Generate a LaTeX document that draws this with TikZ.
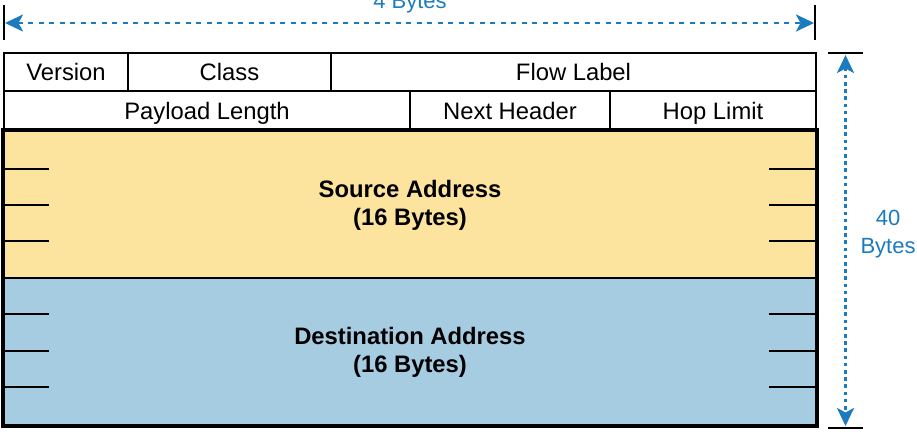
\documentclass[tikz,border=0pt]{standalone}
\usepackage{fontspec}
\setmainfont{Liberation Sans}
\usetikzlibrary{arrows.meta}
\definecolor{srcyellow}{HTML}{FDE49E}
\definecolor{dstblue}{HTML}{A6CCE2}
\definecolor{accent}{HTML}{1B7BBE}
\tikzset{
  cell/.style={draw=black, line width=2.9pt, fill=white, inner sep=0pt,
    font=\fontsize{23.8}{27}\selectfont, text height=17pt, text depth=0pt},
  bigcell/.style={draw=black, line width=2.9pt, inner sep=0pt, align=center,
    font=\fontsize{23.8}{27.5}\selectfont\bfseries},
  tickline/.style={draw=black, line width=2.7pt},
  dimarrow/.style={draw=accent, line width=2.8pt, {Stealth[length=18pt,width=17pt,inset=4.5pt]}-{Stealth[length=18pt,width=17pt,inset=4.5pt]}},
  dimlabel/.style={text=accent, inner sep=0pt, font=\fontsize{22}{28}\selectfont}
}
\begin{document}
\begin{tikzpicture}[x=1pt,y=-1pt]
\useasboundingbox (0,0) rectangle (917,431);
% header rows
\node[cell, minimum width=124pt, minimum height=38pt] (ver) at (66,72) {Version};
\node[cell, minimum width=203pt, minimum height=38pt] (cls) at (229.5,72) {Class};
\node[cell, minimum width=485pt, minimum height=38pt] (flow) at (573.5,72) {Flow Label};
\node[cell, minimum width=406pt, minimum height=40pt] (plen) at (207,111) {Payload Length};
\node[cell, minimum width=200pt, minimum height=40pt] (nh) at (510,111) {Next Header};
\node[cell, minimum width=206pt, minimum height=40pt] (hop) at (713,111) {Hop Limit};
% address blocks
\node[bigcell, fill=srcyellow, minimum width=812pt, minimum height=147pt] (src) at (410,204.5) {};
\node[bigcell, fill=dstblue, minimum width=812pt, minimum height=147pt] (dst) at (410,351.5) {};
\node[bigcell, draw=none, anchor=base] (srct) at (410,225) {Source Address\\(16 Bytes)};
\node[bigcell, draw=none, anchor=base] (dstt) at (410,372) {Destination Address\\(16 Bytes)};
% ticks
\foreach \y in {169,205,241,314,351,387}{
  \draw[tickline] (4,\y) -- (49,\y);
  \draw[tickline] (769,\y) -- (816,\y);
}
\draw[black, line width=2.9pt] (src.north west) rectangle (dst.south east);
% dimension markers
\draw[tickline] (4,5) -- (4,40);
\draw[tickline] (815,5) -- (815,40);
\draw[tickline] (828,53) -- (863,53);
\draw[tickline] (828,428) -- (863,428);
\coordinate (hl) at (5,23);
\coordinate (hr) at (814,23);
\coordinate (vt) at (845.5,55);
\coordinate (vb) at (845.5,426);
\draw[dimarrow, dash pattern=on 5pt off 5.5pt] (hl) -- (hr);
\draw[dimarrow, dash pattern=on 3.6pt off 3.6pt] (vt) -- (vb);
\node[dimlabel, anchor=base] (wlab) at (410,9) {4 Bytes};
\node[dimlabel, anchor=base, align=center] (hlab) at (888,253) {40\\Bytes};
\end{tikzpicture}
\end{document}
